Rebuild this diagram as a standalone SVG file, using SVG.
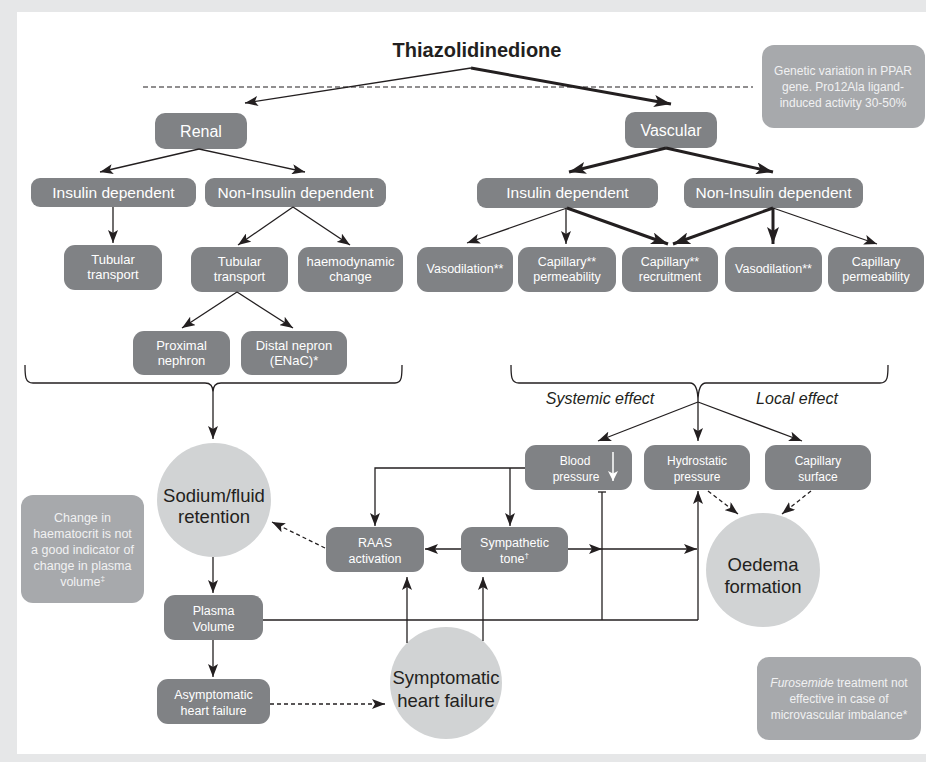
<svg xmlns="http://www.w3.org/2000/svg" width="926" height="762" viewBox="0 0 926 762">
<defs>
<style>
text{font-family:"Liberation Sans",Arial,sans-serif;text-anchor:middle}
.box{fill:#808285}
.note{fill:#a7a9ac}
.circ{fill:#d1d3d4}
.w{fill:#ffffff}
.nw{fill:#f1f1f2}
.d{fill:#231f20}
.f16{font-size:16px}
.f155{font-size:15.5px}
.f13{font-size:13px}
.f125{font-size:12.5px}
.f12{font-size:12px}
.f18{font-size:18.5px}
.ln{fill:none;stroke:#231f20;stroke-width:1.3}
.thk{fill:none;stroke:#231f20;stroke-width:3}
.dash{stroke-dasharray:4 3}
.arr{marker-end:url(#ah)}
.arrT{marker-end:url(#ahT)}
.sup{font-size:8px}
</style>
<marker id="ah" markerUnits="userSpaceOnUse" viewBox="0 0 13 10" markerWidth="13" markerHeight="10" refX="13" refY="5" orient="auto">
<path d="M0,0 L13,5 L0,10 L3,5 Z" fill="#231f20"/>
</marker>
<marker id="ahT" markerUnits="userSpaceOnUse" viewBox="0 0 17 12" markerWidth="17" markerHeight="12" refX="17" refY="6" orient="auto">
<path d="M0,0 L17,6 L0,12 L4,6 Z" fill="#231f20"/>
</marker>
<marker id="ahW" markerUnits="userSpaceOnUse" viewBox="0 0 10 10" markerWidth="10" markerHeight="10" refX="10" refY="5" orient="auto">
<path d="M0,0 L10,5 L0,10 L2.5,5 Z" fill="#ffffff"/>
</marker>
</defs>

<rect x="0" y="0" width="926" height="762" fill="#e6e7e8"/>
<rect x="17" y="12" width="909" height="742" fill="#ffffff"/>

<g id="title">
<text x="477" y="57" class="d" style="font-size:20px;font-weight:bold">Thiazolidinedione</text>
<line x1="143" y1="87" x2="753" y2="87" stroke="#231f20" stroke-width="1.1" stroke-dasharray="5 3"/>
</g>

<g id="note-genetic">
<rect class="note" x="762" y="45" width="163" height="83" rx="12"/>
<text class="nw f12" x="843" y="75">Genetic variation in PPAR</text>
<text class="nw f12" x="843" y="91">gene. Pro12Ala ligand-</text>
<text class="nw f12" x="843" y="107">induced activity 30-50%</text>
</g>

<g id="renal"><rect class="box" x="155" y="113" width="92" height="36" rx="10"/><text class="w f16" x="201" y="137">Renal</text></g>
<g id="vascular"><rect class="box" x="625" y="112" width="92" height="36" rx="10"/><text class="w f16" x="671" y="136">Vascular</text></g>

<g id="renal-insulin"><rect class="box" x="31" y="178" width="165" height="29" rx="9"/><text class="w f155" x="113.5" y="198">Insulin dependent</text></g>
<g id="renal-noninsulin"><rect class="box" x="205" y="178" width="181" height="29" rx="9"/><text class="w f155" x="295.5" y="198">Non-Insulin dependent</text></g>
<g id="vasc-insulin"><rect class="box" x="477" y="178" width="181" height="30" rx="9"/><text class="w f155" x="567.5" y="198">Insulin dependent</text></g>
<g id="vasc-noninsulin"><rect class="box" x="684" y="178" width="179" height="30" rx="9"/><text class="w f155" x="773.5" y="198">Non-Insulin dependent</text></g>

<g id="tubular1"><rect class="box" x="64" y="245" width="98" height="45" rx="11"/><text class="w f13" x="113" y="264">Tubular</text><text class="w f13" x="113" y="279">transport</text></g>
<g id="tubular2"><rect class="box" x="191" y="247" width="97" height="45" rx="11"/><text class="w f13" x="239.5" y="266">Tubular</text><text class="w f13" x="239.5" y="281">transport</text></g>
<g id="haemodynamic"><rect class="box" x="298" y="247" width="105" height="45" rx="11"/><text class="w f13" x="350.5" y="266">haemodynamic</text><text class="w f13" x="350.5" y="281">change</text></g>

<g id="proximal"><rect class="box" x="133" y="331" width="97" height="44" rx="11"/><text class="w f13" x="181.5" y="350">Proximal</text><text class="w f13" x="181.5" y="365">nephron</text></g>
<g id="distal"><rect class="box" x="241" y="331" width="106" height="44" rx="11"/><text class="w f13" x="294" y="350">Distal nepron</text><text class="w f13" x="294" y="365">(ENaC)*</text></g>

<g id="vasodilation1"><rect class="box" x="417" y="247" width="96" height="45" rx="11"/><text class="w f125" x="465" y="273">Vasodilation**</text></g>
<g id="capperm1"><rect class="box" x="518" y="247" width="98" height="45" rx="11"/><text class="w f125" x="567" y="266">Capillary**</text><text class="w f125" x="567" y="281">permeability</text></g>
<g id="caprecruit"><rect class="box" x="622" y="247" width="96" height="45" rx="11"/><text class="w f125" x="670" y="266">Capillary**</text><text class="w f125" x="670" y="281">recruitment</text></g>
<g id="vasodilation2"><rect class="box" x="725" y="247" width="97" height="45" rx="11"/><text class="w f125" x="773.5" y="273">Vasodilation**</text></g>
<g id="capperm2"><rect class="box" x="828" y="247" width="96" height="45" rx="11"/><text class="w f125" x="876" y="266">Capillary</text><text class="w f125" x="876" y="281">permeability</text></g>

<g id="labels">
<text class="d f16" x="600" y="404" font-style="italic">Systemic effect</text>
<text class="d f16" x="797" y="404" font-style="italic">Local effect</text>
</g>

<g id="bloodpressure"><rect class="box" x="525" y="445" width="107" height="45" rx="11"/><text class="w f12" x="575" y="465">Blood</text><text class="w f12" x="576" y="481">pressure</text>
<line x1="613" y1="452" x2="613" y2="481" stroke="#ffffff" stroke-width="1.5" marker-end="url(#ahW)"/></g>
<g id="hydrostatic"><rect class="box" x="644" y="445" width="106" height="45" rx="11"/><text class="w f12" x="697" y="465">Hydrostatic</text><text class="w f12" x="697" y="481">pressure</text></g>
<g id="capsurface"><rect class="box" x="765" y="445" width="106" height="45" rx="11"/><text class="w f12" x="818" y="465">Capillary</text><text class="w f12" x="818" y="481">surface</text></g>

<g id="sodium"><circle class="circ" cx="214" cy="500" r="57"/><text class="d f18" x="214" y="502">Sodium/fluid</text><text class="d f18" x="214" y="523">retention</text></g>
<g id="oedema"><circle class="circ" cx="763" cy="570" r="57"/><text class="d f18" x="763" y="571">Oedema</text><text class="d f18" x="763" y="593">formation</text></g>
<g id="symptomatic"><circle class="circ" cx="446" cy="683" r="56"/><text class="d f18" x="446" y="684">Symptomatic</text><text class="d f18" x="446" y="707">heart failure</text></g>

<g id="note-haematocrit">
<rect class="note" x="21" y="495" width="123" height="108" rx="12"/>
<text class="nw f125" x="82.5" y="522">Change in</text>
<text class="nw f125" x="82.5" y="538">haematocrit is not</text>
<text class="nw f125" x="82.5" y="554">a good indicator of</text>
<text class="nw f125" x="82.5" y="570">change in plasma</text>
<text class="nw f125" x="82.5" y="586">volume<tspan class="sup" dy="-5">‡</tspan></text>
</g>

<g id="raas"><rect class="box" x="326" y="527" width="98" height="45" rx="11"/><text class="w f125" x="375" y="547">RAAS</text><text class="w f125" x="375" y="563">activation</text></g>
<g id="sympathetic"><rect class="box" x="461" y="527" width="107" height="45" rx="11"/><text class="w f125" x="514.5" y="547">Sympathetic</text><text class="w f125" x="514.5" y="563">tone<tspan class="sup" dy="-5">†</tspan></text></g>

<g id="plasma"><rect class="box" x="164" y="595" width="99" height="45" rx="11"/><text class="w f125" x="213.5" y="615">Plasma</text><text class="w f125" x="213.5" y="631">Volume</text></g>
<g id="asymptomatic"><rect class="box" x="157" y="679" width="113" height="45" rx="11"/><text class="w f125" x="213.5" y="699">Asymptomatic</text><text class="w f125" x="213.5" y="715">heart failure</text></g>

<g id="note-furosemide">
<rect class="note" x="757" y="657" width="164" height="83" rx="12"/>
<text class="nw f12" x="839" y="687"><tspan font-style="italic">Furosemide</tspan> treatment not</text>
<text class="nw f12" x="839" y="703">effective in case of</text>
<text class="nw f12" x="839" y="719">microvascular imbalance*</text>
</g>

<g id="connectors">
<line class="ln arr" x1="471" y1="68" x2="245" y2="103"/>
<line class="thk arrT" x1="471" y1="68" x2="671" y2="104"/>
<line class="ln arr" x1="199" y1="149" x2="100" y2="172"/>
<line class="ln arr" x1="199" y1="149" x2="305" y2="172"/>
<line class="thk arrT" x1="666" y1="148" x2="569" y2="172"/>
<line class="thk arrT" x1="666" y1="148" x2="773" y2="172"/>
<line class="ln arr" x1="113" y1="207" x2="113" y2="243"/>
<line class="ln arr" x1="293" y1="207" x2="238" y2="245"/>
<line class="ln arr" x1="293" y1="207" x2="350" y2="245"/>
<line class="ln arr" x1="237" y1="292" x2="182" y2="328"/>
<line class="ln arr" x1="237" y1="292" x2="293" y2="328"/>
<line class="ln arr" x1="567" y1="208" x2="467" y2="243"/>
<line class="ln arr" x1="566" y1="208" x2="566" y2="244"/>
<line class="thk arrT" x1="567" y1="208" x2="668" y2="244"/>
<line class="thk arrT" x1="773" y1="208" x2="673" y2="244"/>
<line class="thk arrT" x1="773" y1="208" x2="773" y2="244"/>
<line class="ln arr" x1="773" y1="208" x2="877" y2="244"/>
<path class="ln" d="M25,365 C25,376 25,383 33,383 L205,383 C210,383 213,386 213,392 C213,386 216,383 221,383 L395,383 C402,383 402,376 402,365"/>
<path class="ln" d="M511,365 C511,376 511,383 519,383 L690,383 C695,383 698,388 698,402 C698,388 701,383 706,383 L880,383 C888,383 888,376 888,365"/>
<line class="ln arr" x1="213" y1="392" x2="213" y2="439"/>
<line class="ln arr" x1="698" y1="402" x2="598" y2="441"/>
<line class="ln arr" x1="698" y1="402" x2="698" y2="441"/>
<line class="ln arr" x1="698" y1="402" x2="802" y2="441"/>
<line class="ln dash arr" x1="708" y1="491" x2="738" y2="514"/>
<line class="ln dash arr" x1="811" y1="491" x2="782" y2="514"/>
<polyline class="ln arr" points="525,468 375,468 375,526"/>
<line class="ln arr" x1="510" y1="468" x2="510" y2="526"/>
<line class="ln arr" x1="461" y1="549" x2="425" y2="549"/>
<line class="ln arr" x1="568" y1="549" x2="602" y2="549"/>
<line class="ln arr" x1="602" y1="549" x2="697" y2="549"/>
<line class="ln" x1="598" y1="492" x2="606" y2="492"/>
<line class="ln" x1="602" y1="492" x2="602" y2="620"/>
<polyline class="ln" points="263,620 698,620"/>
<line class="ln arr" x1="698" y1="620" x2="698" y2="491"/>
<line class="ln dash arr" x1="325" y1="548" x2="272" y2="522"/>
<line class="ln arr" x1="213" y1="557" x2="213" y2="593"/>
<line class="ln arr" x1="213" y1="640" x2="213" y2="677"/>
<line class="ln dash arr" x1="270" y1="704" x2="385" y2="704"/>
<line class="ln arr" x1="407" y1="643" x2="407" y2="577"/>
<line class="ln arr" x1="483" y1="641" x2="483" y2="577"/>
</g>
</svg>
